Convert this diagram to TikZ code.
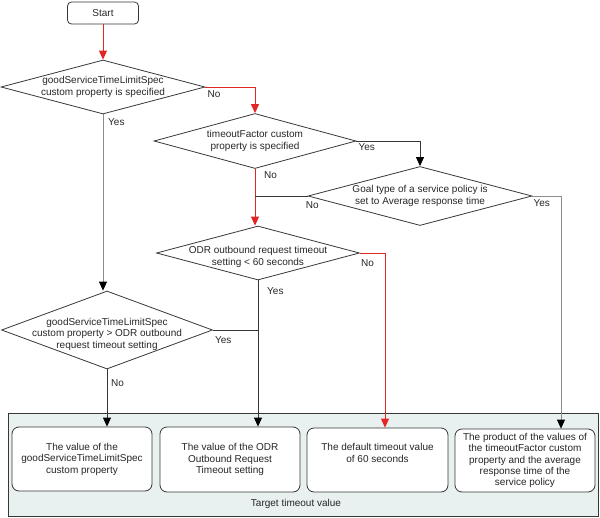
\documentclass[tikz,border=0pt]{standalone}
\usepackage{fontspec}
\setmainfont{Liberation Sans}
\usetikzlibrary{shapes.geometric,arrows.meta}
\definecolor{flowred}{RGB}{226,38,38}
\definecolor{linedark}{RGB}{55,55,55}
\definecolor{linegray}{RGB}{140,140,140}
\definecolor{panelfill}{RGB}{232,240,240}

\begin{document}
\begin{tikzpicture}[x=1pt,y=-1pt,
        font=\fontsize{10}{11.5}\selectfont, text=black!85,
        decision/.style={draw=linedark,line width=0.8pt,diamond,inner sep=0pt},
        dtext/.style={align=center,inner sep=0pt},
        result/.style={draw=linedark,line width=0.8pt,rounded corners=7pt,fill=white,align=center,inner sep=0pt},
        yn/.style={anchor=west,inner sep=0pt},
        flow/.style={draw=linedark,line width=0.8pt,-{Triangle[length=9pt,width=8pt,color=black]}},
        redflow/.style={draw=flowred,line width=0.8pt,-{Triangle[length=9pt,width=8pt]}},
        grayflow/.style={draw=linegray,line width=0.8pt,-{Triangle[length=9pt,width=8pt,color=black]}},
        joinline/.style={draw=linedark,line width=0.8pt}]
        \useasboundingbox (0,0) rectangle (600,517);

        % panel with the four results
        \draw[linedark,line width=0.8pt,fill=panelfill] (8,413) rectangle (598,516);
        \node[inner sep=0pt] (paneltitle) at (296,504) {Target timeout value};
        \node[result,minimum width=140pt,minimum height=64pt] (box1) at (82,459) {The value of the\\goodServiceTimeLimitSpec\\custom property};
        \node[result,minimum width=140pt,minimum height=65pt] (box2) at (230,459.5) {The value of the ODR\\Outbound Request\\Timeout setting};
        \node[result,minimum width=141pt,minimum height=64pt] (box3) at (377.5,460) {The default timeout value\\of 60 seconds\\[3pt]};
        \node[result,minimum width=140pt,minimum height=63pt,font=\fontsize{10}{11.3}\selectfont] (box4) at (525,460.5) {The product of the values of\\the timeoutFactor custom\\property and the average\\response time of the\\service policy};

        % start and decisions
        \node[draw=linedark,line width=0.8pt,rounded corners=4pt,minimum width=71pt,minimum height=22pt,inner sep=0pt] (start) at (103,13) {Start};
        \node[decision,minimum width=204pt,minimum height=54pt,label={[dtext]center:{goodServiceTimeLimitSpec\\custom property is specified}}] (specgiven) at (103,87) {};
        \node[decision,minimum width=202pt,minimum height=55pt,label={[dtext]center:{timeoutFactor custom\\property is specified}}] (factorgiven) at (255,141) {};
        \node[decision,minimum width=224pt,minimum height=59pt,label={[dtext]center:{Goal type of a service policy is\\set to Average response time}}] (goaltype) at (420,196) {};
        \node[decision,minimum width=203pt,minimum height=54pt,label={[dtext,yshift=-4pt]center:{ODR outbound request timeout\\setting < 60 seconds}}] (odrshort) at (258,253) {};
        \node[decision,minimum width=211pt,minimum height=78pt,label={[dtext,yshift=-4pt]center:{goodServiceTimeLimitSpec\\custom property > ODR outbound\\request timeout setting}}] (speclonger) at (107,330) {};

        \coordinate (middrop) at (385,0);
        \coordinate (rightdrop) at (561,0);

        % connectors
        \draw[redflow] (start.south) -- (specgiven.north);
        \draw[redflow] (specgiven.east) -| (factorgiven.north);
        \draw[grayflow] (specgiven.south) -- (specgiven.south |- speclonger.north);
        \draw[flow] (factorgiven.east) -| (goaltype.north);
        \draw[redflow] (factorgiven.south) -- (factorgiven.south |- odrshort.north);
        \draw[joinline] (goaltype.west) -- (goaltype.west -| factorgiven.south);
        \draw[grayflow] (goaltype.east) -| (rightdrop |- box4.north);
        \draw[redflow] (odrshort.east) -| (middrop |- box3.north);
        \draw[flow] (odrshort.south) -- (odrshort.south |- box2.north);
        \draw[joinline] (speclonger.east) -- (speclonger.east -| odrshort.south);
        \draw[flow] (speclonger.south) -- (speclonger.south |- box1.north);

        % branch labels
        \node[yn] (specno) at ([shift={(2,7)}]specgiven.east) {No};
        \node[yn] (specyes) at ([shift={(5,8)}]specgiven.south) {Yes};
        \node[yn] (factoryes) at ([shift={(2,6)}]factorgiven.east) {Yes};
        \node[yn] (factorno) at ([shift={(9,6)}]factorgiven.south) {No};
        \node[yn] (goalno) at ([shift={(-2,9)}]goaltype.west) {No};
        \node[yn] (goalyes) at ([shift={(1,7)}]goaltype.east) {Yes};
        \node[yn] (odrno) at ([shift={(1,10)}]odrshort.east) {No};
        \node[yn] (odryes) at ([shift={(9,11)}]odrshort.south) {Yes};
        \node[yn] (longeryes) at ([shift={(2,10)}]speclonger.east) {Yes};
        \node[yn] (longerno) at ([shift={(4,14)}]speclonger.south) {No};
\end{tikzpicture}
\end{document}
